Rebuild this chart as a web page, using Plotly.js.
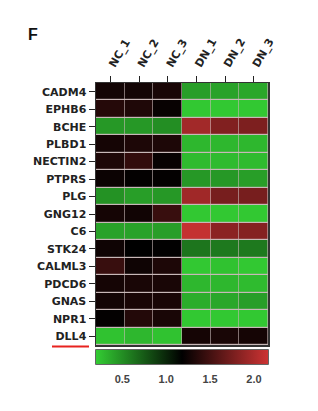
<!DOCTYPE html>
<html>
<head>
<meta charset="utf-8">
<script src="https://cdn.plot.ly/plotly-3.0.1.min.js"></script>
<style>html,body{margin:0;padding:0;background:#fff;}#chart{width:318px;height:411px;}</style>
</head>
<body>
<div id="chart"></div>
<script>
const samples = ['NC_1','NC_2','NC_3','DN_1','DN_2','DN_3'];
const genes = ['CADM4','EPHB6','BCHE','PLBD1','NECTIN2','PTPRS','PLG','GNG12','C6','STK24','CALML3','PDCD6','GNAS','NPR1','DLL4'];
const CADM4   = [1.27, 1.27, 1.30, 0.42, 0.40, 0.38];
const EPHB6   = [1.36, 1.33, 1.22, 0.22, 0.22, 0.22];
const BCHE    = [0.45, 0.45, 0.50, 1.96, 1.80, 1.78];
const PLBD1   = [1.28, 1.32, 1.32, 0.30, 0.30, 0.30];
const NECTIN2 = [1.32, 1.42, 1.22, 0.28, 0.28, 0.28];
const PTPRS   = [1.24, 1.20, 1.20, 0.45, 0.45, 0.42];
const PLG     = [0.48, 0.42, 0.45, 1.95, 1.75, 1.75];
const GNG12   = [1.28, 1.26, 1.45, 0.22, 0.22, 0.22];
const C6      = [0.40, 0.40, 0.42, 2.12, 1.85, 1.82];
const STK24   = [1.25, 1.18, 1.19, 0.62, 0.60, 0.60];
const CALML3  = [1.45, 1.25, 1.32, 0.22, 0.25, 0.22];
const PDCD6   = [1.28, 1.30, 1.30, 0.30, 0.30, 0.28];
const GNAS    = [1.27, 1.30, 1.30, 0.35, 0.38, 0.42];
const NPR1    = [1.20, 1.35, 1.30, 0.22, 0.22, 0.22];
const DLL4    = [0.25, 0.30, 0.25, 1.28, 1.30, 1.28];
const values = [CADM4, EPHB6, BCHE, PLBD1, NECTIN2, PTPRS, PLG, GNG12, C6, STK24, CALML3, PDCD6, GNAS, NPR1, DLL4];
const cbTicks = [0.5, 1.0, 1.5, 2.0];
const cbTickText = ['0.5', '1.0', '1.5', '2.0'];
const cMin = 0.2, cMax = 2.16;

const labelFont = {family: 'DejaVu Sans, sans-serif', size: 11, color: '#222', weight: 'bold'};
const cbFont = {family: 'Liberation Sans, Arial, sans-serif', size: 11, color: '#444', weight: 'bold'};
const colorscale = [[0, '#33cc33'], [0.5, '#000000'], [1, '#cc3333']];

function cb(extra) {
  return Object.assign({
    orientation: 'h',
    lenmode: 'pixels', len: 172,
    thickness: 14, thicknessmode: 'pixels',
    x: 0.5, xanchor: 'center',
    y: -0.02, yanchor: 'top',
    xpad: 0, ypad: 0,
    tickvals: cbTicks, ticktext: cbTickText
  }, extra);
}

// main heatmap: colorbar with inside ticks, no labels
const trace = {
  type: 'heatmap',
  x: samples, y: genes, z: values,
  zmin: cMin, zmax: cMax,
  colorscale: colorscale,
  xgap: 0.6, ygap: 1.2,
  colorbar: cb({
    outlinewidth: 1.5, outlinecolor: '#333',
    ticks: 'inside', ticklen: 4, tickcolor: '#222', tickwidth: 1,
    showticklabels: false
  })
};
// invisible copy that only carries the labelled scale
const labels = {
  type: 'heatmap',
  x: samples, y: genes, z: values,
  zmin: cMin, zmax: cMax,
  colorscale: colorscale,
  opacity: 0, hoverinfo: 'skip',
  colorbar: cb({
    outlinewidth: 0, bgcolor: 'rgba(0,0,0,0)',
    ticks: 'outside', ticklen: 6, tickcolor: 'rgba(0,0,0,0)',
    tickfont: cbFont
  })
};

const layout = {
  width: 318, height: 411,
  margin: {l: 96, r: 50, t: 83, b: 66},
  paper_bgcolor: '#fff',
  plot_bgcolor: '#c8b8b8',
  font: labelFont,
  title: {
    text: '<b>F</b>', x: 28/318, xanchor: 'left', xref: 'container',
    y: 1 - 34/411, yanchor: 'middle', yref: 'container',
    font: {family: 'Liberation Sans, Arial, sans-serif', size: 16, color: '#111'}
  },
  xaxis: {
    side: 'top', tickangle: -60, ticks: 'outside', ticklen: 6, tickcolor: '#222',
    showline: true, linecolor: '#333', linewidth: 1.5, mirror: true,
    showgrid: false, zeroline: false,
    tickfont: labelFont
  },
  yaxis: {
    autorange: 'reversed', ticks: 'outside', ticklen: 6, tickcolor: '#222',
    showline: true, linecolor: '#333', linewidth: 1.5, mirror: true,
    showgrid: false, zeroline: false,
    tickfont: labelFont
  },
  shapes: [{
    type: 'line', xref: 'paper', yref: 'paper',
    x0: (52 - 96) / 172, x1: (89 - 96) / 172,
    y0: (345 - 346.5) / 262, y1: (345 - 346.5) / 262,
    line: {color: '#e8231f', width: 2}
  }]
};

Plotly.newPlot('chart', [trace, labels], layout, {displayModeBar: false, staticPlot: true});
</script>
</body>
</html>
